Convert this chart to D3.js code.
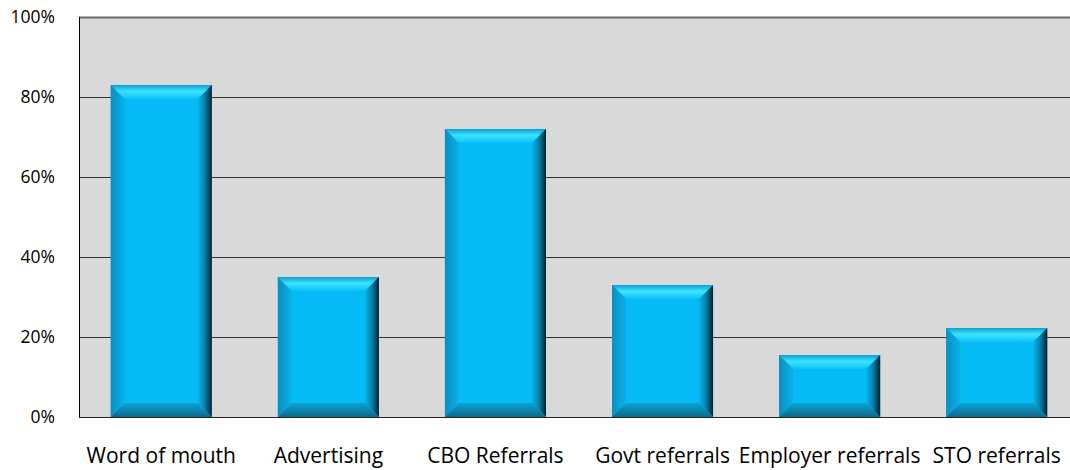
<!DOCTYPE html>
<html>
<head>
<meta charset="utf-8">
<script src="https://cdn.jsdelivr.net/npm/d3@7"></script>
<style>
  body { margin: 0; background: #fff; }
  text { font-family: "Open Sans", Lato, sans-serif; fill: #000; }
</style>
</head>
<body>
<div id="chart"></div>
<script>
// Chart data
var categories = ["Word of mouth", "Advertising", "CBO Referrals", "Govt referrals", "Employer referrals", "STO referrals"];
var values = [0.83, 0.35, 0.72, 0.33, 0.155, 0.2225];
var yTicks = [0, 0.2, 0.4, 0.6, 0.8, 1.0];

var margin = {top: 17, right: -9, bottom: 53, left: 79},
    width = 1070 - margin.left - margin.right,
    height = 470 - margin.top - margin.bottom;

var svg = d3.select("#chart")
  .append("svg")
    .attr("width", 1070)
    .attr("height", 470)
    .style("overflow", "hidden");

var defs = svg.append("defs");

// gradients for the bevel faces
function grad(id, x1, y1, x2, y2, stops) {
    var gr = defs.append("linearGradient")
        .attr("id", id)
        .attr("x1", x1).attr("y1", y1).attr("x2", x2).attr("y2", y2);
    stops.forEach(function(s) {
        gr.append("stop").attr("offset", s[0]).attr("stop-color", s[1]);
    });
}
grad("gTop", 0, 0, 0, 1, [[0, "#0a9fd4"], [0.45, "#3be3ff"], [1, "#0cc0f8"]]);
grad("gLeft", 0, 0, 1, 0, [[0, "#0b8fbf"], [1, "#08b2ea"]]);
grad("gRight", 0, 0, 1, 0, [[0, "#07b4ec"], [0.5, "#087fa8"], [1, "#05202e"]]);
grad("gBottom", 0, 0, 0, 1, [[0, "#0aa2d6"], [1, "#0d6a8a"]]);

var g = svg.append("g")
    .attr("transform", "translate(" + margin.left + "," + margin.top + ")");

var x = d3.scaleBand()
    .domain(categories)
    .range([0, width])
    .paddingInner(0.395)
    .paddingOuter(0.19);

var y = d3.scaleLinear()
    .domain([0, 1])
    .range([height, 0]);

// plot background
g.append("rect")
    .attr("width", width)
    .attr("height", height)
    .attr("fill", "#d9d9d9");

// grid lines
g.selectAll(".grid")
  .data(yTicks.slice(1))
  .enter().append("line")
    .attr("x1", 0)
    .attr("x2", width)
    .attr("y1", function(d) { return Math.round(y(d)) + 0.5; })
    .attr("y2", function(d) { return Math.round(y(d)) + 0.5; })
    .attr("stroke", function(d) { return d === 1 ? "#6b6b6b" : "#333"; })
    .attr("stroke-width", function(d) { return d === 1 ? 2 : 1; });

// y axis labels
var yAxis = d3.axisLeft(y)
    .tickValues(yTicks)
    .tickFormat(d3.format(".0%"))
    .tickSize(0)
    .tickPadding(24);

g.append("g")
    .attr("class", "y-axis")
    .call(yAxis)
    .call(function(s) { s.select(".domain").remove(); })
    .selectAll("text")
      .style("font-size", "17.5px")
      .attr("fill", "#000");

// bars with bevel
var bev = 14;
var bars = g.selectAll(".bar")
  .data(values)
  .enter().append("g")
    .attr("class", "bar")
    .attr("transform", function(d, i) { return "translate(" + x(categories[i]) + "," + y(d) + ")"; });

bars.each(function(d) {
    var w = x.bandwidth(), h = y(0) - y(d), b = Math.min(bev, h / 2);
    var sel = d3.select(this);
    sel.append("rect").attr("width", w).attr("height", h).attr("fill", "#06bbf5");
    sel.append("polygon")
        .attr("points", [[0, 0], [w, 0], [w - b, b], [b, b]].join(" "))
        .attr("fill", "url(#gTop)");
    sel.append("polygon")
        .attr("points", [[0, 0], [b, b], [b, h - b], [0, h]].join(" "))
        .attr("fill", "url(#gLeft)");
    sel.append("polygon")
        .attr("points", [[w, 0], [w, h], [w - b, h - b], [w - b, b]].join(" "))
        .attr("fill", "url(#gRight)");
    sel.append("polygon")
        .attr("points", [[0, h], [b, h - b], [w - b, h - b], [w, h]].join(" "))
        .attr("fill", "url(#gBottom)");
});

// y axis line and baseline
g.append("line")
    .attr("x1", 0.5).attr("x2", 0.5)
    .attr("y1", 0).attr("y2", height)
    .attr("stroke", "#000");
g.append("line")
    .attr("x1", 0).attr("x2", width)
    .attr("y1", height + 0.5).attr("y2", height + 0.5)
    .attr("stroke", "#222");

// category labels
var xAxis = d3.axisBottom(x).tickSize(0).tickPadding(31);
g.append("g")
    .attr("transform", "translate(0," + height + ")")
    .call(xAxis)
    .call(function(s) { s.select(".domain").remove(); })
    .selectAll("text")
      .style("font-size", "21px")
      .attr("fill", "#000");
</script>
</body>
</html>
